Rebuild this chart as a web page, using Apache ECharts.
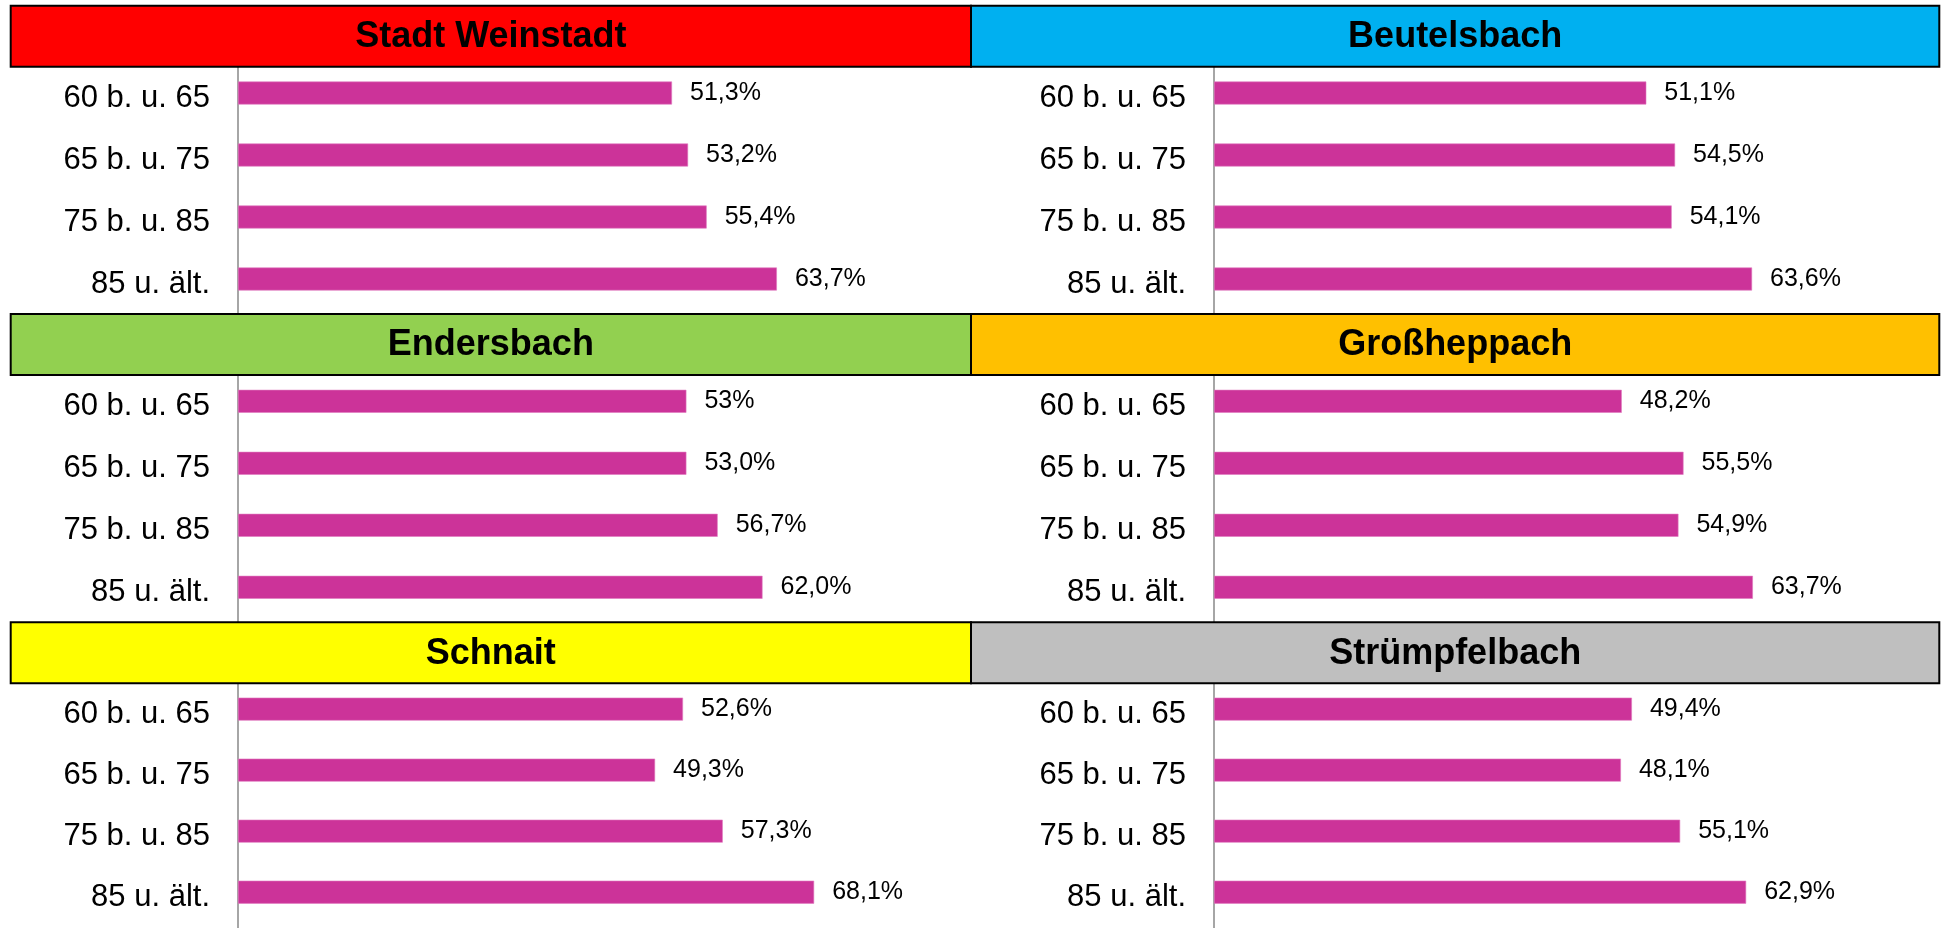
<!DOCTYPE html>
<html>
<head>
<meta charset="utf-8">
<script src="https://cdn.jsdelivr.net/npm/echarts@6/dist/echarts.min.js"></script>
<style>
  html, body { margin: 0; padding: 0; background: #fff; }
  #chart { width: 1945px; height: 928px; }
</style>
</head>
<body>
<div id="chart"></div>
<script>
const categories = ['60 b. u. 65', '65 b. u. 75', '75 b. u. 85', '85 u. ält.'];
const regions = ['Stadt Weinstadt', 'Beutelsbach', 'Endersbach', 'Großheppach', 'Schnait', 'Strümpfelbach'];
const stadtWeinstadt = [51.3, 53.2, 55.4, 63.7];
const beutelsbach = [51.1, 54.5, 54.1, 63.6];
const endersbach = [53.0, 53.0, 56.7, 62.0];
const grossheppach = [48.2, 55.5, 54.9, 63.7];
const schnait = [52.6, 49.3, 57.3, 68.1];
const struempfelbach = [49.4, 48.1, 55.1, 62.9];
// labels shown without decimals: [panel, category]
const wholeLabels = [[2, 0]];

const panelValues = [stadtWeinstadt, beutelsbach, endersbach, grossheppach, schnait, struempfelbach];
const headerColors = ['#FF0000', '#00B0F0', '#92D050', '#FFC000', '#FFFF00', '#BFBFBF'];

const chart = echarts.init(document.getElementById('chart'));
const font = "'Liberation Sans', Arial, sans-serif";

const rowTop = 5.7, rowPitch = 308.3, headerH = 61;
const colX = [10.7, 971], colW = [960.3, 968.3];
const axisX = [238, 1214];
const pxPerPct = 8.46, xMax = 80;

const grids = [], xAxes = [], yAxes = [], series = [], graphics = [];

regions.forEach(function (name, i) {
  const r = Math.floor(i / 2), c = i % 2;
  const top = rowTop + r * rowPitch;
  grids.push({ left: axisX[c], top: top + headerH + 0.6, width: xMax * pxPerPct, height: 248 });
  xAxes.push({ gridIndex: i, type: 'value', min: 0, max: xMax, show: false });
  yAxes.push({
    gridIndex: i, type: 'category', data: categories, inverse: true,
    axisLine: { lineStyle: { color: '#898989', width: 1.5 } },
    axisTick: { length: 9, lineStyle: { color: '#898989', width: 1.5 } },
    axisLabel: { margin: 28, fontSize: 31, color: '#000', fontFamily: font }
  });
  series.push({
    type: 'bar', xAxisIndex: i, yAxisIndex: i, data: panelValues[i],
    barWidth: 23, barGap: '-54%',
    itemStyle: { color: '#CC3399', borderColor: '#E07BC0', borderWidth: 0.6 },
    label: {
      show: true, position: 'right', distance: 18, fontSize: 25, color: '#000', fontFamily: font,
      formatter: function (p) {
        const whole = wholeLabels.some(function (w) { return w[0] === i && w[1] === p.dataIndex; });
        return (whole ? p.value.toFixed(0) : p.value.toFixed(1).replace('.', ',')) + '%';
      }
    },
    silent: true, animation: false
  });
  series.push({
    type: 'bar', xAxisIndex: i, yAxisIndex: i, data: ['-', '-', '-', '-'],
    barWidth: 23, silent: true, animation: false
  });
  graphics.push({
    type: 'rect', z: 10,
    shape: { x: colX[c], y: top, width: colW[c], height: headerH },
    style: { fill: headerColors[i], stroke: '#000', lineWidth: 2 }
  });
  graphics.push({
    type: 'text', z: 11,
    x: colX[c] + colW[c] / 2, y: top + headerH / 2 + 1,
    style: { text: name, fill: '#000', font: 'bold 36px ' + font, align: 'center', verticalAlign: 'middle' }
  });
});

const option = {
  animation: false,
  grid: grids,
  xAxis: xAxes,
  yAxis: yAxes,
  series: series,
  graphic: graphics
};
option && chart.setOption(option);
</script>
</body>
</html>
